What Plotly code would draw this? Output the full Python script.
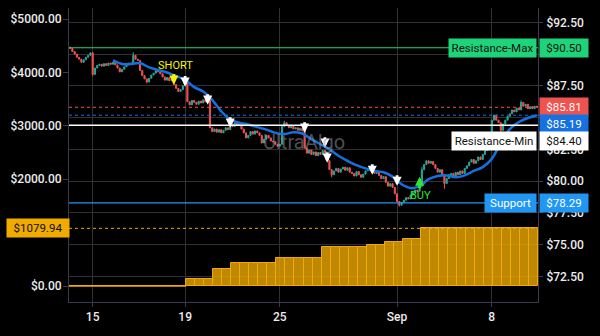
import plotly.graph_objects as go

# ---------------- price series (one candle per bar index) ----------------
first_open = 90.55
closes = [
    90.45, 90.2, 90.0, 89.75, 89.6, 89.35, 89.55, 89.75, 89.9, 90.1,
    88.4, 88.9, 89.1, 89.2, 89.05, 89.25, 89.1, 89.3, 89.2, 89.35,
    89.15, 88.9, 88.6, 88.8, 89.0, 89.15, 89.3, 89.2, 89.9, 89.6,
    89.5, 88.7, 88.3, 88.05, 87.8, 88.1, 88.35, 88.5, 88.7, 88.6,
    88.45, 88.2, 87.95, 88.15, 87.9, 88.0, 87.6, 87.3, 87.05, 87.2,
    87.5, 87.75, 86.25, 86.0, 86.35, 86.2, 86.05, 86.3, 86.15, 86.4,
    86.25, 86.45, 84.2, 83.9, 84.1, 83.85, 84.05, 83.8, 84.0, 84.2,
    84.05, 84.5, 84.3, 84.6, 84.4, 84.55, 84.1, 83.8, 83.4, 83.6,
    83.9, 83.7, 83.95, 83.8, 83.6, 83.0, 83.3, 83.6, 83.4, 83.15,
    83.1, 82.9, 82.75, 82.9, 84.3, 84.6, 84.4, 84.2, 84.35, 84.1,
    84.2, 84.0, 84.15, 83.95, 82.6, 82.2, 82.45, 82.1, 82.3, 82.0,
    82.25, 82.1, 82.4, 82.2, 81.6, 80.9, 80.5, 80.8, 81.0, 80.7,
    80.95, 81.1, 80.85, 81.05, 80.7, 80.6, 80.4, 80.75, 80.5, 80.3,
    80.55, 80.8, 80.9, 81.05, 80.8, 80.6, 80.75, 80.45, 80.2, 80.35,
    79.9, 79.6, 79.8, 79.5, 79.0, 78.4, 78.1, 78.3, 78.5, 78.7,
    78.6, 78.9, 79.1, 79.3, 79.2, 79.6, 80.9, 81.3, 81.6, 81.4,
    81.55, 81.3, 81.0, 80.7, 80.9, 80.4, 79.8, 80.2, 80.5, 80.6,
    80.4, 80.7, 80.5, 80.8, 80.6, 81.0, 81.2, 81.5, 81.7, 81.4,
    81.6, 81.9, 81.7, 82.1, 82.4, 82.7, 83.0, 84.8, 85.2, 84.8,
    84.6, 84.0, 84.5, 84.8, 85.1, 85.3, 85.6, 85.45, 85.75, 85.6,
    86.2, 85.9, 86.05, 85.7, 85.85, 85.7, 85.9, 85.81,
]
# wick extremes that reach beyond the candle body
wick_highs = {28: 90.15, 95: 84.75, 200: 86.35, 156: 81.1}
wick_lows = {10: 88.25, 34: 87.7, 116: 80.3, 146: 78.0, 166: 79.4, 191: 83.85}

# ---------------- trend line (every 4th bar from bar 19) ----------------
ma_start, ma_step = 19, 4
ma_values = [
    89.5, 89.22, 89.22, 89.3, 88.95, 88.75, 88.55, 88.25, 88.0, 87.4,
    87.05, 86.4, 85.5, 84.85, 84.6, 84.45, 84.25, 84.05, 83.8, 83.7,
    83.85, 83.75, 83.3, 82.9, 82.5, 82.0, 81.6, 81.25, 81.0, 80.8,
    80.7, 80.35, 79.75, 79.45, 79.6, 80.15, 80.4, 80.45, 80.3, 80.45,
    80.8, 81.1, 81.75, 83.0, 84.1, 84.65, 84.97, 85.19,
]

# ---------------- equity histogram (one bar per 4 candles, left axis) ----------------
bars_per_block = 4
equity = [
    0, 0, 0, 0, 0, 0, 0, 0, 0, 0, 0, 0, 0,
    130, 130, 130,
    318, 318,
    430, 430, 430, 430, 430,
    530, 530, 530, 530, 530,
    730, 730, 730, 730, 730,
    768, 768,
    824, 824,
    880, 880,
    1079.94, 1079.94, 1079.94, 1079.94, 1079.94, 1079.94, 1079.94,
    1079.94, 1079.94, 1079.94, 1079.94, 1079.94, 1079.94,
]

# ---------------- signals ----------------
sell_idx = [51, 61, 71, 104, 113, 114, 134, 145]
sell_price = [87.44, 86.02, 84.21, 83.81, 82.63, 81.45, 80.5, 79.63]
short_idx, short_price = 46, 87.6
buy_idx, buy_price = 155, 80.35

# ---------------- levels ----------------
resistance_max = 90.50
resistance_min = 84.40
support = 78.29

# ---------------- axes ----------------
x_tick_pos = [10, 51, 93, 145, 187]
x_tick_text = ["15", "19", "25", "Sep", "8"]
price_ticks = [72.5, 75.0, 77.5, 80.0, 82.5, 85.0, 87.5, 90.0, 92.5]
equity_ticks = [0, 1000, 2000, 3000, 4000, 5000]

assert len(closes) == 208 and len(equity) == 52 and len(ma_values) == 48

n = len(closes)
idx = list(range(n))
opens = [first_open] + closes[:-1]
highs = [max(o, c, wick_highs.get(i, 0)) for i, (o, c) in enumerate(zip(opens, closes))]
lows = [min(o, c, wick_lows.get(i, 1e9)) for i, (o, c) in enumerate(zip(opens, closes))]
ma_x = [ma_start + ma_step * k for k in range(len(ma_values))]
bar_x = [bars_per_block * j + (bars_per_block - 1) / 2 for j in range(len(equity))]
zero_run = next(j for j, v in enumerate(equity) if v > 0)

last_price = closes[-1]
ma_last = ma_values[-1]
equity_last = equity[-1]

UP, DOWN = "#26a69a", "#ef5350"
MA_BLUE = "#1570e0"
SUP_BLUE = "#2196f3"
GREEN = "#1ed47a"
ORANGE = "#f0aa00"
GRID = "#303036"
FRAME = "#3a3a4c"
FONT = "Roboto"
TICK_FONT = dict(family=FONT, size=12, color="#ececec", weight=500)


def money(v):
    return f"${v:.2f}"


# tick labels tucked fully under a price tag are left blank (grid line stays)
tagged_prices = [resistance_max, ma_last]
price_text = ["" if any(abs(t - p) < 0.6 for p in tagged_prices) else money(t)
              for t in price_ticks]
equity_text = ["" if abs(t - equity_last) < 150 else money(t) for t in equity_ticks]

fig = go.Figure()

# equity histogram on the left axis
fig.add_trace(go.Bar(
    x=bar_x, y=equity, width=bars_per_block, yaxis="y2",
    marker=dict(color="rgba(240,170,0,0.8)", line=dict(color=ORANGE, width=1)),
    hoverinfo="skip", showlegend=False,
))
fig.add_trace(go.Scatter(
    x=[-0.5, -0.5 + bars_per_block * zero_run], y=[0, 0], yaxis="y2",
    mode="lines", line=dict(color=ORANGE, width=1.5),
    hoverinfo="skip", showlegend=False,
))

# candles
fig.add_trace(go.Candlestick(
    x=idx, open=opens, high=highs, low=lows, close=closes,
    increasing=dict(line=dict(color=UP, width=1), fillcolor=UP),
    decreasing=dict(line=dict(color=DOWN, width=1), fillcolor=DOWN),
    whiskerwidth=0, showlegend=False, hoverinfo="skip",
))

# trend line
fig.add_trace(go.Scatter(
    x=ma_x, y=ma_values, mode="lines",
    line=dict(color=MA_BLUE, width=2.5, shape="spline", smoothing=0.8),
    hoverinfo="skip", showlegend=False,
))


# horizontal price lines
def hline(y, color, width=1, dash="solid", yref="y"):
    fig.add_shape(type="line", xref="paper", x0=0, x1=1, yref=yref, y0=y, y1=y,
                  line=dict(color=color, width=width, dash=dash))


hline(resistance_max, GREEN, 1.2)
hline(resistance_min, "#ffffff", 1.5)
hline(support, SUP_BLUE, 1.2)
hline(last_price, DOWN, 1, "3px,3px")
hline(ma_last, MA_BLUE, 1, "3px,3px")
hline(equity_last, ORANGE, 1, "3px,3px", yref="y2")


# signal markers: shaft plus head, tip resting on the price
def arrow(x, y, color, length, down=True):
    fig.add_annotation(x=x, y=y, xref="x", yref="y", text="", showarrow=True,
                       ax=0, ay=-length if down else length,
                       arrowhead=2, arrowsize=0.65, arrowwidth=2.8,
                       arrowcolor=color, standoff=0)


for i, p in zip(sell_idx, sell_price):
    arrow(i, p, "#ffffff", 12)
arrow(short_idx, short_price, "#f5f500", 12)
arrow(buy_idx, buy_price, "#2ee82e", 13, down=False)

fig.add_annotation(x=short_idx, y=short_price, xref="x", yref="y", text="SHORT",
                   showarrow=False, yshift=19, xshift=2,
                   font=dict(family=FONT, size=11, color="#f5f500"))
fig.add_annotation(x=buy_idx, y=buy_price, xref="x", yref="y", text="BUY",
                   showarrow=False, yshift=-19, xshift=1,
                   font=dict(family=FONT, size=11, color="#2ee82e"))

# watermark
fig.add_annotation(x=0.5, y=0.545, xref="paper", yref="paper", text="UltraAlgo",
                   showarrow=False,
                   font=dict(family=FONT, size=20, color="rgba(150,150,150,0.55)"))


# axis price tags
def tag(text, y, bg, fg, side="right", yshift=0, width=44, yref="y"):
    if side == "right":
        x, anchor, xs = 1, "left", 1
    elif side == "title":
        x, anchor, xs = 1, "right", -1.5
    else:
        x, anchor, xs = 0, "right", 1
    fig.add_annotation(x=x, xref="paper", y=y, yref=yref, xanchor=anchor, yanchor="middle",
                       xshift=xs, yshift=yshift, text=text, showarrow=False,
                       bgcolor=bg, width=width, height=14, borderpad=2, align="center",
                       font=dict(family=FONT, size=11.5, color=fg))


tag("Resistance-Max", resistance_max, GREEN, "#111111", "title", width=83)
tag(money(resistance_max), resistance_max, GREEN, "#111111")
tag(money(last_price), last_price, DOWN, "#ffffff")
tag(money(ma_last), ma_last, MA_BLUE, "#ffffff", yshift=-8.5)
tag("Resistance-Min", resistance_min, "#ffffff", "#111111", "title", yshift=-16, width=80)
tag(money(resistance_min), resistance_min, "#ffffff", "#111111", yshift=-16)
tag("Support", support, SUP_BLUE, "#ffffff", "title", width=47)
tag(money(support), support, SUP_BLUE, "#ffffff")
tag(money(equity_last), equity_last, ORANGE, "#111111", "left", width=58, yref="y2")

fig.update_layout(
    width=600, height=336,
    margin=dict(l=69, r=62, t=8, b=34),
    paper_bgcolor="#000000", plot_bgcolor="#000000",
    font=dict(family=FONT, size=11, color="#e6e6e6"),
    showlegend=False, bargap=0,
    xaxis=dict(
        range=[-0.5, n - 0.5], tickvals=x_tick_pos, ticktext=x_tick_text,
        showgrid=True, gridcolor=GRID, gridwidth=1, zeroline=False,
        showline=True, linecolor=FRAME, linewidth=1,
        ticks="outside", ticklen=4, tickcolor=FRAME,
        rangeslider=dict(visible=False), fixedrange=True,
        tickfont=TICK_FONT,
    ),
    yaxis=dict(
        side="right", range=[70.48, 93.63], tickvals=price_ticks, ticktext=price_text,
        showgrid=True, gridcolor=GRID, gridwidth=1, zeroline=False,
        showline=True, linecolor=FRAME, linewidth=1,
        ticks="outside", ticklen=4, tickcolor=FRAME, ticklabelstandoff=1,
        tickfont=TICK_FONT,
    ),
    yaxis2=dict(
        overlaying="y", side="left", range=[-299.6, 5206],
        tickvals=equity_ticks, ticktext=equity_text,
        showgrid=False, zeroline=False,
        showline=True, linecolor=FRAME, linewidth=1,
        ticks="outside", ticklen=5, tickcolor=FRAME, ticklabelstandoff=-1,
        tickfont=TICK_FONT,
    ),
)

fig.write_html("out.html")
